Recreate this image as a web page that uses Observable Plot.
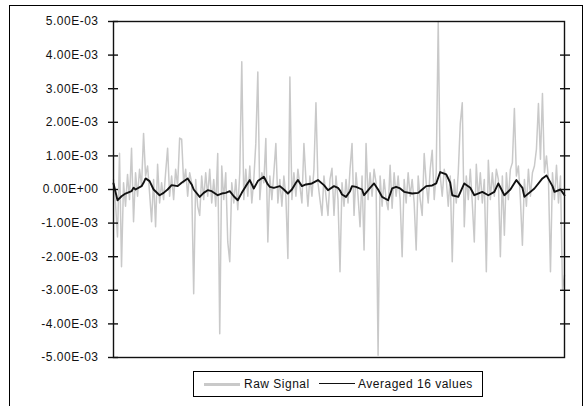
<!DOCTYPE html>
<html>
<head>
<meta charset="utf-8">
<script src="https://cdn.jsdelivr.net/npm/d3@7"></script>
<script src="https://cdn.jsdelivr.net/npm/@observablehq/plot@0.6"></script>
<style>
  html, body { margin: 0; padding: 0; background: #fff; overflow: hidden; }
  #wrap { position: relative; width: 585px; height: 406px; }
  #outer { position: absolute; left: 9px; top: 5px; width: 574px; height: 420px; border: 1px solid #000; box-sizing: border-box; pointer-events: none; }
  #legend { position: absolute; left: 193px; top: 371px; width: 290px; height: 26px; border: 1px solid #000; box-sizing: border-box; background: #fff;
            font-family: "Liberation Sans", Arial, sans-serif; font-size: 12px; letter-spacing: 0.5px; color: #111; }
  .sw { position: absolute; top: 11px; height: 0; }
  .lt { position: absolute; top: 5px; line-height: 14px; white-space: nowrap; }
</style>
</head>
<body>
<div id="wrap">
  <div id="chart"></div>
  <div id="outer"></div>
  <div id="legend"></div>
</div>
<script>
// Raw signal samples (units of 1e-3), one per sample index
const rawSignal = [
  0.3, -0.4, -1.41, 1.08, -2.3, 0.2, -0.5, 0.45, -0.3, 1.23,
  -0.96, 0.5, -0.2, 0.6, 0.1, 1.67, 0.4, 0.7, -0.1, -0.96,
  0.3, -1.11, 0.75, -0.4, 0.2, -0.3, 0.5, 1.23, -0.2, 0.4,
  -0.3, 0.6, 0.1, 1.53, 1.5, 0.2, 0.6, -0.2, 0.5, 0.2,
  -3.1, 0.3, -0.5, -0.77, 0.4, -0.3, 0.5, -0.2, 0.6, -0.4,
  0.3, -0.5, 1.07, -4.29, 0.7, -0.3, 0.5, -1.56, -2.15, 0.2,
  -0.4, 0.3, -0.6, 0.5, 3.8, -0.3, 0.6, -0.2, 0.7, -0.4,
  0.3, 1.38, 3.5, -0.3, 0.5, 0.2, 1.52, -1.56, 0.4, -0.3,
  0.5, 1.37, -0.4, 0.3, -0.5, 0.4, -0.2, -2.05, 3.35, -0.3,
  0.5, -0.2, 0.6, 0.1, -0.4, 1.37, 0.3, -0.5, 0.4, -0.2,
  0.6, 2.58, 0.2, -0.3, -0.77, 0.4, -0.2, -0.77, 0.3, 0.63,
  -0.77, 0.4, -0.3, -2.45, 0.2, -0.5, 0.3, -0.4, 0.6, 1.37,
  -0.77, 0.5, -0.2, -1.11, 0.4, -1.8, 1.37, -0.3, 0.5, -0.2,
  0.6, 0.2, -4.93, 0.4, -0.5, 0.3, -0.3, -0.6, 0.72, -0.56,
  0.5, -0.2, 0.4, -0.3, -2.0, 0.3, -0.4, 0.5, -0.2, 0.3,
  -0.4, -1.8, 0.4, -0.3, -0.77, 1.07, 0.2, -0.4, 0.6, 1.17,
  -0.3, 0.5, 5.0, 0.4, -0.2, 0.6, 0.3, -0.5, 0.4, -2.15,
  0.3, -0.4, 0.5, 1.96, 2.58, -1.11, 0.4, -0.3, 0.6, -0.4,
  -1.56, 0.75, -0.3, 0.5, -0.4, 0.3, -2.45, 0.87, -0.3, 0.5,
  -0.2, 0.6, 0.3, -2.0, 0.4, -1.36, 0.5, -0.3, 0.6, 0.8,
  2.41, 0.4, 0.7, -0.3, -1.66, 0.3, -0.5, 0.6, -0.2, 0.5,
  0.7, 1.2, 2.56, 0.9, 2.86, 0.5, 1.0, 0.3, -2.45, 0.5,
  -0.3, 0.72, -0.4, 0.4, -3.0, -2.55
];

// Averaged (16 values) line, read at sample indices (units of 1e-3)
const avgIndex = [0, 2, 4, 6, 9, 10, 11, 14, 15, 16, 18, 20, 23, 25, 27, 29, 32, 34, 37, 39,
  40, 43, 45, 47, 49, 52, 54, 56, 58, 60, 62, 64, 66, 68, 70, 72, 75, 77, 78, 80,
  83, 85, 87, 89, 91, 92, 94, 96, 99, 102, 105, 107, 110, 112, 113, 114, 116, 118, 119, 121,
  124, 125, 128, 130, 132, 134, 137, 139, 141, 143, 145, 149, 152, 154, 156, 159, 161, 163, 166, 168,
  169, 172, 175, 178, 180, 184, 187, 190, 192, 195, 198, 201, 204, 205, 210, 214, 216, 219, 220, 223, 225];
const avgValue = [0.18, -0.32, -0.2, -0.12, -0.05, 0.05, 0.0, 0.1, 0.2, 0.33, 0.25, 0.0, -0.17, -0.1, 0.0, 0.13, 0.1, 0.2, 0.33, 0.15,
  0.0, -0.22, -0.1, -0.02, -0.05, -0.17, -0.12, -0.1, -0.05, -0.2, -0.32, -0.1, 0.1, 0.28, 0.03, 0.25, 0.38, 0.15, 0.08, 0.05,
  0.1, 0.0, -0.12, 0.0, 0.2, 0.28, 0.1, 0.15, 0.18, 0.28, 0.13, -0.02, 0.1, 0.05, -0.03, -0.15, -0.22, -0.05, 0.1, 0.08,
  0.0, -0.17, 0.05, 0.18, 0.0, -0.22, -0.32, 0.03, 0.08, 0.03, -0.07, -0.12, -0.1, 0.0, 0.1, 0.12, 0.18, 0.52, 0.45, 0.2,
  -0.17, -0.22, 0.18, 0.05, -0.17, -0.07, -0.17, -0.07, 0.18, -0.17, 0.0, 0.28, 0.05, -0.22, 0.03, 0.33, 0.42, 0.1, -0.07, 0.0, -0.17];

const yTicks = [-5e-3, -4e-3, -3e-3, -2e-3, -1e-3, 0, 1e-3, 2e-3, 3e-3, 4e-3, 5e-3];
const yTickLabels = ["-5.00E-03", "-4.00E-03", "-3.00E-03", "-2.00E-03", "-1.00E-03", "0.00E+00",
  "1.00E-03", "2.00E-03", "3.00E-03", "4.00E-03", "5.00E-03"];
const seriesNames = ["Raw Signal", "Averaged 16 values"];
const seriesColors = ["#c9c9c9", "#111111"];

const rawData = rawSignal.map((v, i) => ({i, v: v * 1e-3}));
const avgData = avgIndex.map((i, k) => ({i, v: avgValue[k] * 1e-3}));
const labelOf = new Map(yTicks.map((t, k) => [t, yTickLabels[k]]));

const chart = Plot.plot({
  width: 585,
  height: 406,
  marginLeft: 113,
  marginRight: 21,
  marginTop: 21,
  marginBottom: 49,
  style: {fontFamily: "'Liberation Sans', Arial, sans-serif", fontSize: "12px", letterSpacing: "0.5px", color: "#111", background: "transparent"},
  x: {domain: [0, rawSignal.length - 1], axis: null},
  y: {domain: [-5e-3, 5e-3], axis: null},
  marks: [
    Plot.line(rawData, {x: "i", y: "v", stroke: seriesColors[0], strokeWidth: 1.5}),
    Plot.line(avgData, {x: "i", y: "v", stroke: seriesColors[1], strokeWidth: 1.9}),
    Plot.frame({stroke: "#111", strokeWidth: 1.4}),
    Plot.axisY({anchor: "left", label: null, ticks: yTicks, tickSize: 0, tickPadding: 15, tickFormat: d => labelOf.get(d) ?? ""}),
    Plot.axisY({anchor: "left", label: null, ticks: yTicks, tickSize: 10, dx: 5, tickFormat: () => "", strokeWidth: 1.4, stroke: "#111"}),
    Plot.axisY({anchor: "right", label: null, ticks: yTicks.slice(1, -1), tickSize: 10, dx: -5, tickFormat: () => "", strokeWidth: 1.4, stroke: "#111"})
  ]
});
document.getElementById("chart").appendChild(chart);

// Legend
const legend = document.getElementById("legend");
const items = [
  {name: seriesNames[0], color: seriesColors[0], lineLeft: 10, lineW: 36, lw: 3, textLeft: 50},
  {name: seriesNames[1], color: seriesColors[1], lineLeft: 125, lineW: 36, lw: 1.5, textLeft: 164}
];
items.forEach(it => {
  const sw = document.createElement("div");
  sw.className = "sw";
  sw.style.left = it.lineLeft + "px";
  sw.style.width = it.lineW + "px";
  sw.style.borderTop = it.lw + "px solid " + it.color;
  sw.style.top = (12 - it.lw / 2) + "px";
  legend.appendChild(sw);
  const t = document.createElement("div");
  t.className = "lt";
  t.style.left = it.textLeft + "px";
  t.textContent = it.name;
  legend.appendChild(t);
});
</script>
</body>
</html>
